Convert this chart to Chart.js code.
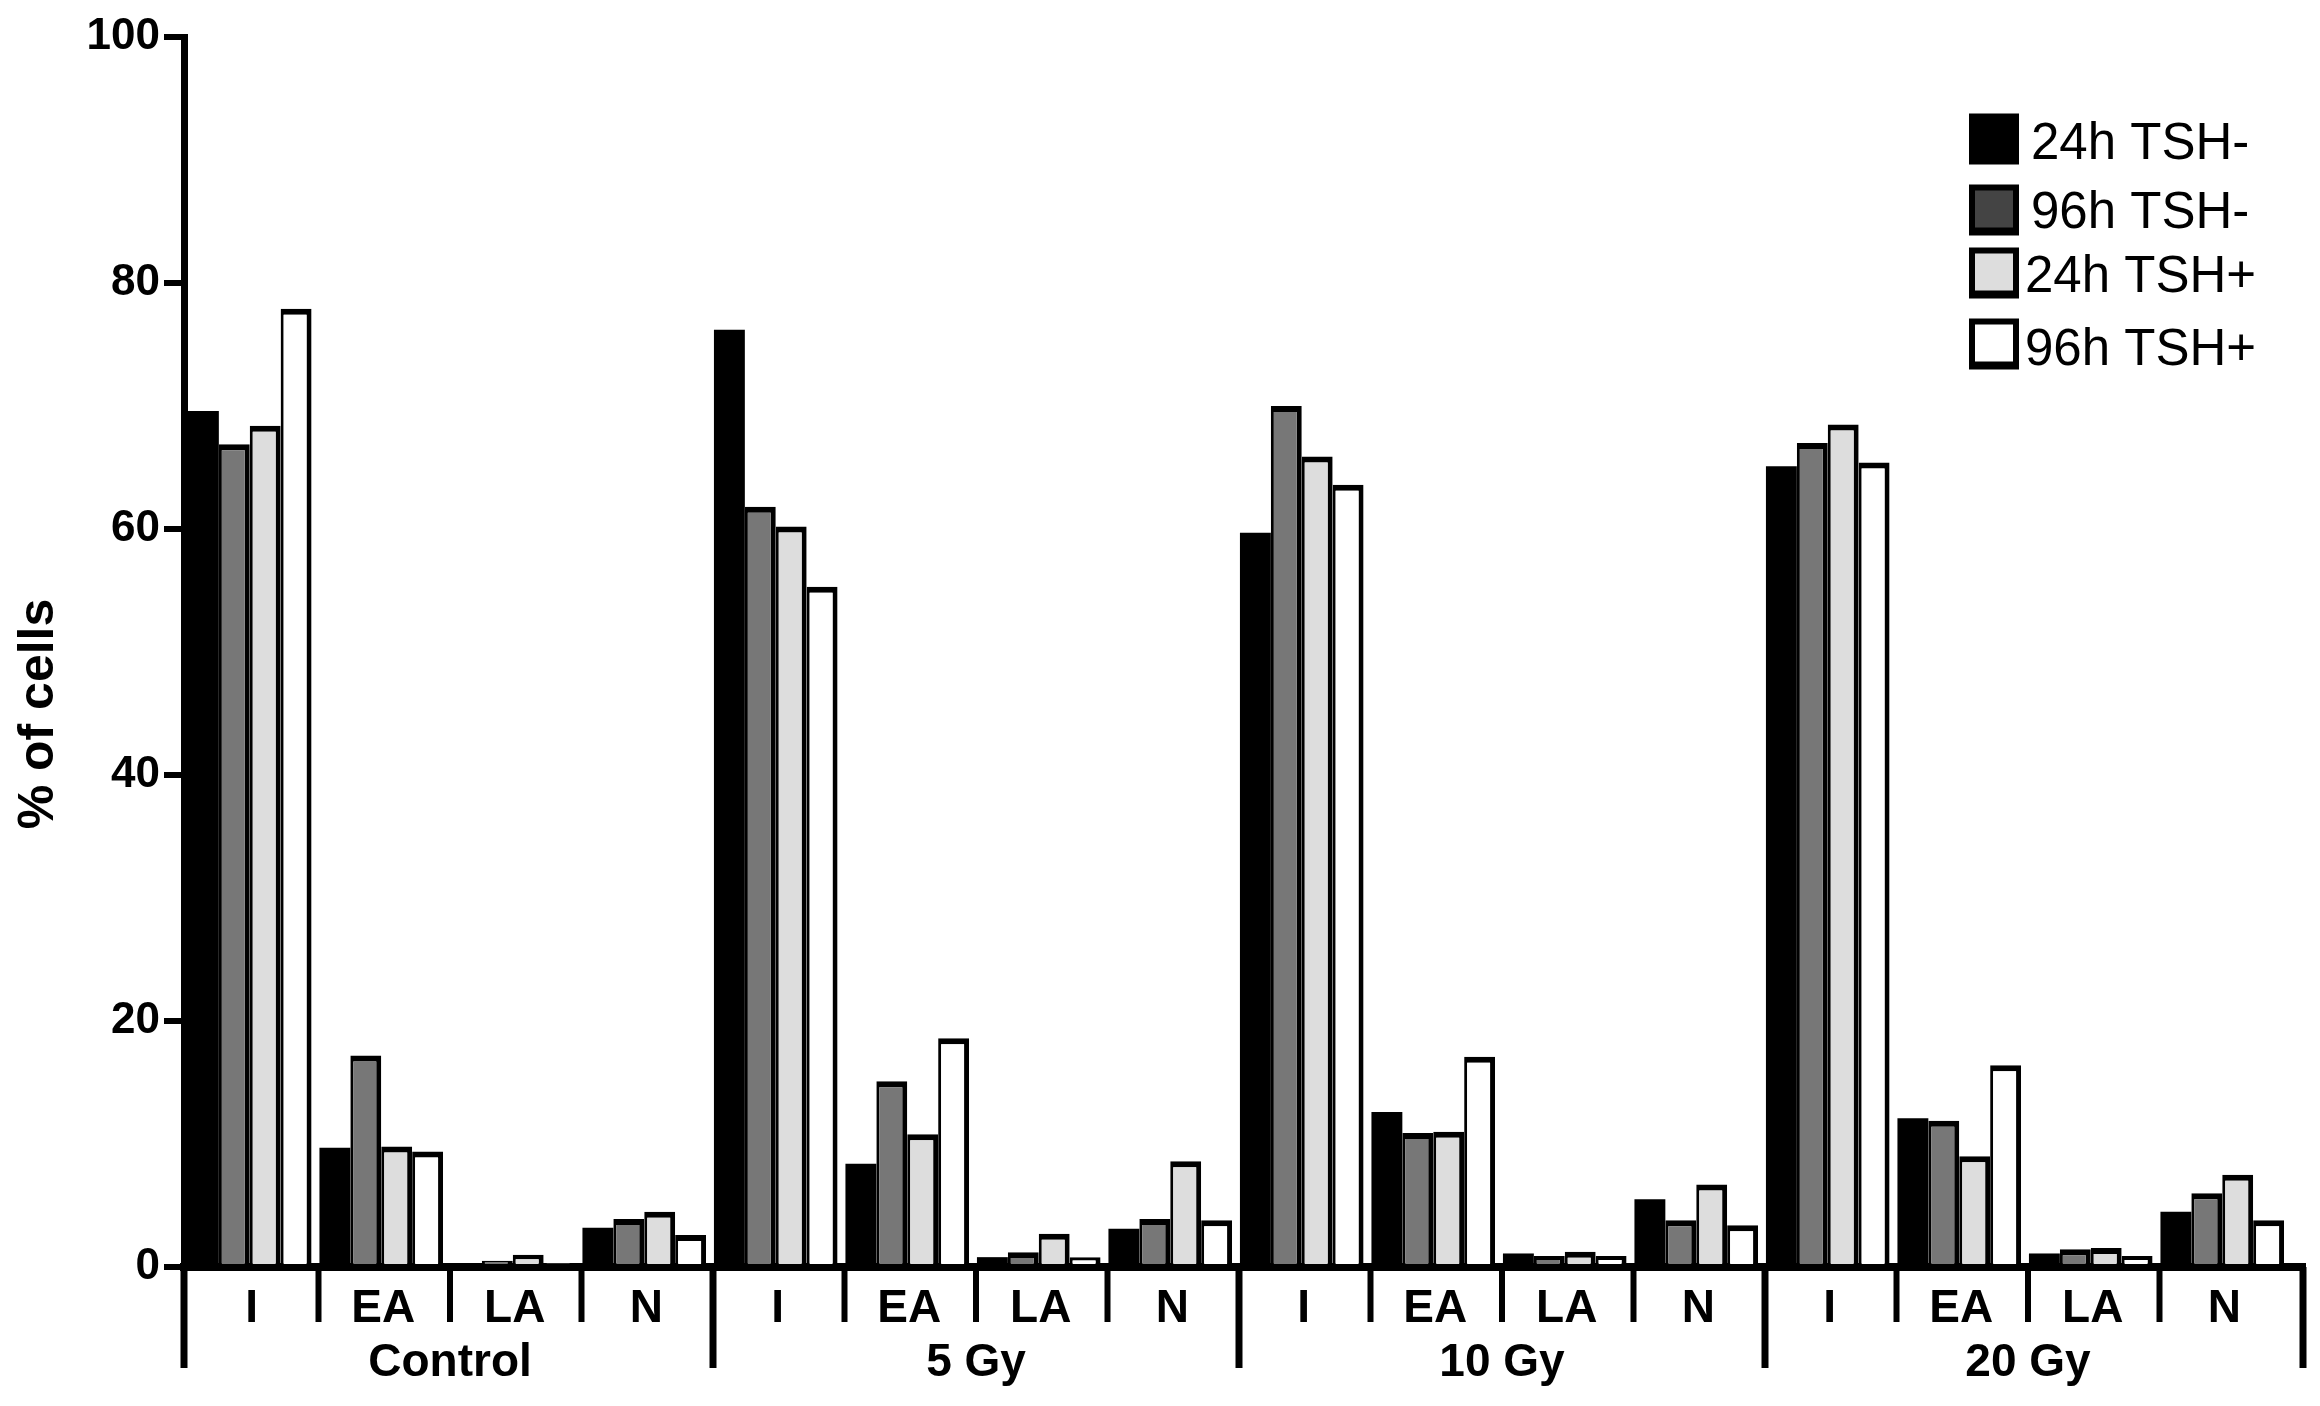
<!DOCTYPE html>
<html>
<head>
<meta charset="utf-8">
<script src="https://cdn.jsdelivr.net/npm/chart.js@4/dist/chart.umd.min.js"></script>
<style>
html,body{margin:0;padding:0;background:#fff;}
#wrap{width:2320px;height:1406px;position:relative;}
</style>
</head>
<body>
<div id="wrap"><canvas id="c" width="2320" height="1406"></canvas></div>
<script>
// ---- data ----
const subCategories = ["I","EA","LA","N","I","EA","LA","N","I","EA","LA","N","I","EA","LA","N"];
const groups = ["Control","5 Gy","10 Gy","20 Gy"];
const seriesNames = ["24h TSH-","96h TSH-","24h TSH+","96h TSH+"];
const s24hMinus = [69.6, 9.7, 0.3, 3.2,  76.2, 8.4, 0.8, 3.1,  59.7, 12.6, 1.1, 5.5,  65.1, 12.1, 1.1, 4.5];
const s96hMinus = [66.9, 17.2, 0.5, 3.9, 61.8, 15.1, 1.2, 3.9,  70.0, 10.9, 0.9, 3.8,  67.0, 11.9, 1.45, 6.0];
const s24hPlus  = [68.4, 9.8, 1.0, 4.5,  60.2, 10.8, 2.7, 8.6,  65.9, 11.0, 1.25, 6.7, 68.5, 9.0, 1.55, 7.5];
const s96hPlus  = [77.9, 9.4, 0.3, 2.6,  55.3, 18.6, 0.8, 3.8,  63.6, 17.1, 0.9, 3.4,  65.4, 16.4, 0.9, 3.8];
const yTicks = [0,20,40,60,80,100];
const yTitle = "% of cells";

const fills = ["#000000","#777777","#dddddd","#ffffff"];
const legendFills = ["#000000","#444444","#dddddd","#ffffff"];
const FONT = "'Liberation Sans', Arial, sans-serif";

const decorPlugin = {
  id: 'decor',
  afterDraw(chart) {
    const ctx = chart.ctx;
    const x = chart.scales.x;
    const area = chart.chartArea;
    const n = subCategories.length;
    const half = (x.getPixelForValue(1) - x.getPixelForValue(0)) / 2;
    const axisEnd = area.right + 15;
    ctx.save();
    ctx.strokeStyle = '#000';
    ctx.lineCap = 'butt';
    // baseline extension
    ctx.lineWidth = 8;
    ctx.beginPath();
    ctx.moveTo(area.right - 2, area.bottom);
    ctx.lineTo(axisEnd + 3, area.bottom);
    ctx.stroke();
    // separators
    for (let i = 0; i <= n; i++) {
      let px = i < n ? x.getPixelForValue(i) - half + 3 : axisEnd;
      if (i === 0) px = area.left;
      const major = (i % 4 === 0);
      ctx.lineWidth = major ? 7 : 6;
      ctx.beginPath();
      ctx.moveTo(px, area.bottom);
      ctx.lineTo(px, area.bottom + (major ? 101 : 55));
      ctx.stroke();
    }
    // group labels
    ctx.fillStyle = '#000';
    ctx.font = "bold 46px " + FONT;
    ctx.textAlign = 'center';
    ctx.textBaseline = 'alphabetic';
    groups.forEach((g, gi) => {
      const a = x.getPixelForValue(gi * 4);
      const b = x.getPixelForValue(gi * 4 + 3);
      ctx.fillText(g, (a + b) / 2 + 3, area.bottom + 109);
    });
    // y title
    ctx.save();
    ctx.translate(53, 714);
    ctx.rotate(-Math.PI / 2);
    ctx.font = "bold 50px " + FONT;
    ctx.textAlign = 'center';
    ctx.textBaseline = 'alphabetic';
    ctx.fillText(yTitle, 0, 0);
    ctx.restore();
    // legend
    const lx = 1969, bw = 50, bh = 51;
    const rowsY = [139, 210, 273, 344];
    const textX = [2031, 2031, 2025, 2025];
    const baseY = [159, 228, 292, 365];
    ctx.font = "51px " + FONT;
    ctx.textAlign = 'left';
    ctx.textBaseline = 'alphabetic';
    chart.data.datasets.forEach((ds, i) => {
      const cy = rowsY[i];
      ctx.fillStyle = '#000';
      ctx.fillRect(lx, cy - bh / 2, bw, bh);
      if (i > 0) {
        ctx.fillStyle = legendFills[i];
        ctx.fillRect(lx + 6, cy - bh / 2 + 6, bw - 12, bh - 14);
      }
      ctx.fillStyle = '#000';
      ctx.fillText(ds.label, textX[i], baseY[i]);
    });
    ctx.restore();
  }
};

const dataArrays = [s24hMinus, s96hMinus, s24hPlus, s96hPlus];
new Chart(document.getElementById('c'), {
  type: 'bar',
  data: {
    labels: subCategories,
    datasets: dataArrays.map((arr, i) => ({
      label: seriesNames[i],
      data: arr,
      backgroundColor: fills[i],
      borderColor: '#000',
      borderWidth: i === 0 ? 0 : { top: 6, left: 3, right: 5, bottom: 0 },
      categoryPercentage: 0.94,
      barPercentage: 1.0
    }))
  },
  options: {
    responsive: false,
    animation: false,
    devicePixelRatio: 1,
    layout: { padding: { top: 37, right: 32, left: 0, bottom: 0 } },
    plugins: { legend: { display: false }, tooltip: { enabled: false } },
    scales: {
      x: {
        grid: { display: false },
        border: { display: true, color: '#000', width: 8 },
        ticks: { color: '#000', font: { family: FONT, size: 46, weight: 'bold' }, padding: 7, labelOffset: 2, maxRotation: 0, autoSkip: false },
        afterFit(s) { s.height = 139; }
      },
      y: {
        min: 0, max: 100,
        afterBuildTicks(s) { s.ticks = yTicks.map(v => ({ value: v })); },
        grid: { display: true, drawOnChartArea: false, drawTicks: true, tickLength: 20, lineWidth: 6, color: '#000' },
        border: { display: true, color: '#000', width: 7 },
        ticks: { color: '#000', font: { family: FONT, size: 44, weight: 'bold' }, padding: 4 },
        afterFit(s) { s.width = 184; }
      }
    }
  },
  plugins: [decorPlugin]
});
</script>
</body>
</html>
